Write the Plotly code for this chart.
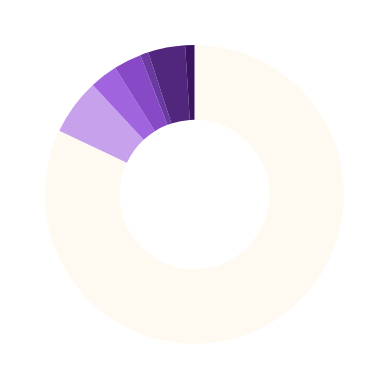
import plotly.graph_objects as go

labels = ["A", "B", "C", "D", "E", "F", "G"]
values = [82.0, 6.1, 3.0, 3.0, 0.9, 4.0, 1.0]
colors = ["#FFFAF1", "#C7A1EC", "#A064DE", "#8749C6", "#6A3AA2", "#51277D", "#3A1460"]

fig = go.Figure(go.Pie(
    labels=labels,
    values=values,
    hole=0.5,
    sort=False,
    direction="clockwise",
    rotation=0,
    marker=dict(colors=colors, line=dict(width=0)),
    textinfo="none",
    hoverinfo="label+percent",
))
fig.update_layout(
    width=389, height=389,
    margin=dict(l=45, r=45, t=45, b=45),
    showlegend=False,
    paper_bgcolor="white",
    plot_bgcolor="white",
)
fig.write_html("out.html")
